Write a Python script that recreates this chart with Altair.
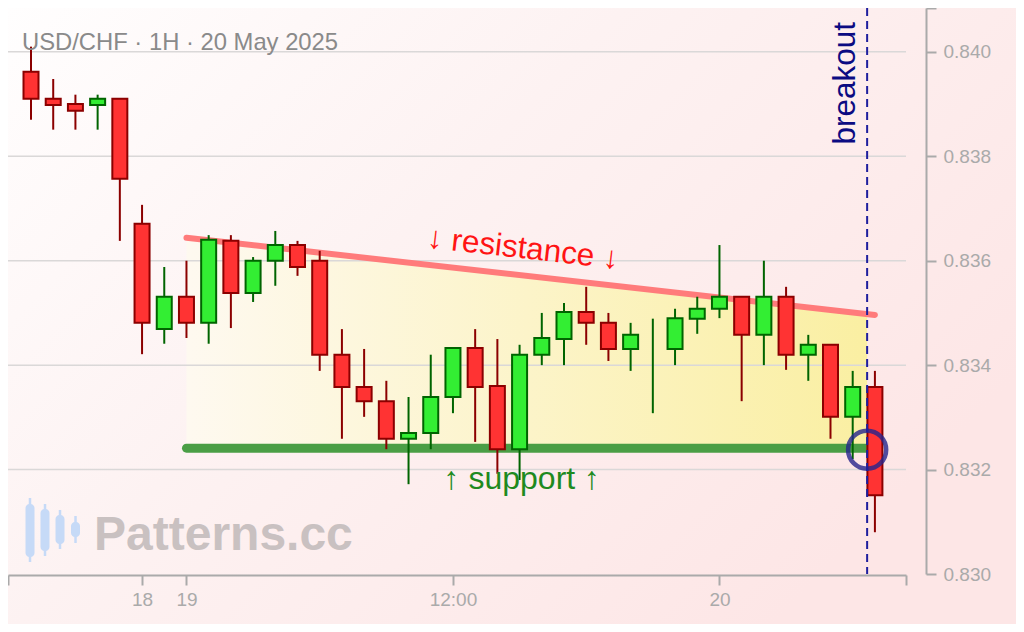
import altair as alt
import pandas as pd

# ---------------- data ----------------
idx = list(range(39))
opens = [0.83962, 0.83910, 0.83900, 0.83898, 0.83910, 0.83671, 0.83469, 0.83531, 0.83481, 0.83638,
         0.83538, 0.83600, 0.83630, 0.83600, 0.83420, 0.83358, 0.83331, 0.83259, 0.83270, 0.83339,
         0.83433, 0.83360, 0.83239, 0.83420, 0.83450, 0.83502, 0.83481, 0.83431, 0.83489, 0.83431,
         0.83489, 0.83508, 0.83531, 0.83458, 0.83531, 0.83420, 0.83439, 0.83301, 0.83358]
highs = [0.84010, 0.83948, 0.83918, 0.83918, 0.83910, 0.83707, 0.83588, 0.83600, 0.83649, 0.83649,
         0.83607, 0.83657, 0.83638, 0.83619, 0.83469, 0.83431, 0.83370, 0.83339, 0.83420, 0.83433,
         0.83469, 0.83450, 0.83439, 0.83500, 0.83519, 0.83550, 0.83500, 0.83481, 0.83489, 0.83508,
         0.83531, 0.83630, 0.83531, 0.83600, 0.83550, 0.83458, 0.83439, 0.83389, 0.83389]
lows = [0.83870, 0.83851, 0.83851, 0.83851, 0.83638, 0.83421, 0.83441, 0.83452, 0.83441, 0.83471,
        0.83521, 0.83552, 0.83571, 0.83389, 0.83259, 0.83301, 0.83239, 0.83172, 0.83239, 0.83308,
        0.83253, 0.83192, 0.83180, 0.83400, 0.83400, 0.83439, 0.83408, 0.83389, 0.83308, 0.83400,
        0.83460, 0.83490, 0.83331, 0.83400, 0.83391, 0.83370, 0.83259, 0.83220, 0.83080]
closes = [0.83910, 0.83898, 0.83887, 0.83910, 0.83757, 0.83481, 0.83531, 0.83481, 0.83640, 0.83538,
          0.83600, 0.83630, 0.83588, 0.83420, 0.83358, 0.83331, 0.83259, 0.83270, 0.83339, 0.83433,
          0.83358, 0.83239, 0.83420, 0.83452, 0.83502, 0.83481, 0.83431, 0.83458, 0.83489, 0.83490,
          0.83508, 0.83531, 0.83458, 0.83531, 0.83420, 0.83439, 0.83301, 0.83358, 0.83151]

# x-axis ticks (candle index) and labels
xtick_vals = [-1.036, 5, 7, 19, 31, 39.4]
xtick_labels = ["", "18", "19", "12:00", "20", ""]
# y-axis ticks
ytick_vals = [0.830, 0.832, 0.834, 0.836, 0.838, 0.840, 0.84084]
ytick_labels = ["0.830", "0.832", "0.834", "0.836", "0.838", "0.840", ""]
grid_vals = [0.832, 0.834, 0.836, 0.838, 0.840]

# pattern lines
res_x = [7, 38]
res_vals = [0.83644, 0.83496]
sup_x = [7, 37.65]
sup_vals = [0.83241, 0.83241]
area_x = [7, 37.65]
area_top = [0.83644, 0.83498]
area_bot = [0.83241, 0.83241]
breakout_x = [37.65]
circle_x = [37.65]
circle_y = [0.83238]

# annotation positions
res_label = {"x": 22.15, "y": 0.83622, "text": "↓ resistance ↓"}
sup_label = {"x": 22.1, "y": 0.83182, "text": "↑ support ↑"}
brk_label = {"x": 36.7, "y": 0.83940, "text": "breakout"}
title_text = "USD/CHF · 1H · 20 May 2025"
watermark_text = "Patterns.cc"

# watermark icon candles
icon_x = [-0.045, 0.630, 1.306, 2.004]
icon_hi = [0.831456, 0.831341, 0.831226, 0.831111]
icon_lo = [0.830230, 0.830345, 0.830479, 0.830594]
icon_top = [0.831341, 0.831245, 0.831130, 0.830996]
icon_bot = [0.830326, 0.830441, 0.830575, 0.830709]

# ---------------- frames ----------------
df = pd.DataFrame({"i": idx, "open": opens, "high": highs, "low": lows, "close": closes})
df["dir"] = ["up" if c >= o else "down" for o, c in zip(opens, closes)]
df["btop"] = df[["open", "close"]].max(axis=1)
df["bbot"] = df[["open", "close"]].min(axis=1)
body_df = df[df["open"] != df["close"]]

W, H = 898, 566
PAD_R, PAD_B = 110, 50
FONT = "Liberation Sans"
AX = "#aaaaaa"

xexpr = " : ".join(f"datum.value == {v} ? '{l}'" for v, l in zip(xtick_vals, xtick_labels)) + " : ''"
yexpr = " : ".join(f"datum.value == {v} ? '{l}'" for v, l in zip(ytick_vals, ytick_labels)) + " : ''"

xscale = alt.Scale(domain=[xtick_vals[0], xtick_vals[-1]], nice=False, zero=False, padding=0)
yscale = alt.Scale(domain=[ytick_vals[0], ytick_vals[-1]], nice=False, zero=False, padding=0)
xaxis = alt.Axis(values=xtick_vals, labelExpr=xexpr, title=None, grid=False, orient="bottom",
                 domainColor=AX, domainWidth=2, tickColor=AX, tickWidth=2, tickSize=10,
                 labelColor=AX, labelFontSize=19, labelFont=FONT, labelPadding=5, offset=1,
                 zindex=1, labelFlush=False, labelOverlap=False)
yaxis = alt.Axis(values=ytick_vals, labelExpr=yexpr, title=None, grid=False, orient="right",
                 domainColor=AX, domainWidth=2, tickColor=AX, tickWidth=2, tickSize=10,
                 labelColor=AX, labelFontSize=19, labelFont=FONT, labelPadding=7, offset=20,
                 zindex=1, labelFlush=False, labelOverlap=False)


def X(f):
    return alt.X(f"{f}:Q", scale=xscale, axis=xaxis)


def Y(f):
    return alt.Y(f"{f}:Q", scale=yscale, axis=yaxis)


one = pd.DataFrame({"a": [0]})

bg = alt.Chart(one).mark_rect(
    fill=alt.Gradient(gradient="linear", x1=0, y1=0, x2=1, y2=0.6,
                      stops=[alt.GradientStop(color="#fffefe", offset=0),
                             alt.GradientStop(color="#fdf2f2", offset=0.45),
                             alt.GradientStop(color="#fde6e6", offset=1)])
).encode(x=alt.value(0), x2=alt.value(W + PAD_R), y=alt.value(0), y2=alt.value(H + PAD_B))

area_df = pd.DataFrame({"x": area_x, "top": area_top, "bot": area_bot})
area = alt.Chart(area_df).mark_area(
    fill=alt.Gradient(gradient="linear", x1=0, y1=0, x2=1, y2=0,
                      stops=[alt.GradientStop(color="#fef9f0", offset=0),
                             alt.GradientStop(color="#faefa2", offset=1)])
).encode(x=X("x"), y=Y("top"), y2=alt.Y2("bot"))

grid = alt.Chart(pd.DataFrame({"g": grid_vals})).mark_rule(
    color="#dad8d8", strokeWidth=1.5).encode(y=Y("g"))

res = alt.Chart(pd.DataFrame({"x": res_x, "v": res_vals})).mark_line(
    color="#ff7b7b", strokeWidth=6, strokeCap="round").encode(x=X("x"), y=Y("v"))
sup = alt.Chart(pd.DataFrame({"x": sup_x, "v": sup_vals})).mark_line(
    color="#4a9e45", strokeWidth=9, strokeCap="round").encode(x=X("x"), y=Y("v"))

dir_dom = ["up", "down"]
stroke_enc = alt.Stroke("dir:N", scale=alt.Scale(domain=dir_dom, range=["#006400", "#8b0000"]), legend=None)
fill_enc = alt.Fill("dir:N", scale=alt.Scale(domain=dir_dom, range=["#33ee33", "#ff3333"]), legend=None)

wicks = alt.Chart(df).mark_rule(strokeWidth=2).encode(
    x=X("i"), y=Y("low"), y2=alt.Y2("high"), stroke=stroke_enc)
bodies = alt.Chart(body_df).mark_bar(size=15, strokeWidth=2).encode(
    x=X("i"), y=Y("bbot"), y2=alt.Y2("btop"), fill=fill_enc, stroke=stroke_enc)

circ = alt.Chart(pd.DataFrame({"x": circle_x, "y": circle_y})).mark_point(
    shape="circle", filled=False, size=1450, strokeWidth=4.5, color="#25258c", opacity=0.8
).encode(x=X("x"), y=Y("y"))

brk = alt.Chart(pd.DataFrame({"x": breakout_x})).mark_rule(
    color="#1e1e9e", strokeWidth=2, strokeDash=[8, 5]).encode(x=X("x"))


def label(d, color, size, angle=0):
    return alt.Chart(pd.DataFrame([d])).mark_text(
        font=FONT, fontSize=size, color=color, angle=angle, align="center", baseline="middle"
    ).encode(x=X("x"), y=Y("y"), text="text:N")


res_t = label(res_label, "#ff1414", 31.5, 6.4)
sup_t = label(sup_label, "#1f8a1f", 32)
brk_t = label(brk_label, "#0b0b82", 31.5, 270)

title = alt.Chart(one).mark_text(
    text=title_text, font=FONT, fontSize=23.8, color="#8a8a8a", align="left", baseline="alphabetic"
).encode(x=alt.value(14), y=alt.value(41.5))

wm = alt.Chart(one).mark_text(
    text=watermark_text, font=FONT, fontSize=48, fontWeight="bold", color="#c9c1c1",
    align="left", baseline="alphabetic"
).encode(x=alt.value(86), y=alt.value(542))

icon_df = pd.DataFrame({"x": icon_x, "hi": icon_hi, "lo": icon_lo, "top": icon_top, "bot": icon_bot})
icon_w = alt.Chart(icon_df).mark_rule(color="#c6daf7", strokeWidth=2.5).encode(
    x=X("x"), y=Y("lo"), y2=alt.Y2("hi"))
icon_b = alt.Chart(icon_df).mark_bar(color="#c6daf7", size=9, cornerRadius=4).encode(
    x=X("x"), y=Y("bot"), y2=alt.Y2("top"))

chart = alt.layer(
    bg, area, grid, res, sup, wicks, bodies, circ, brk, res_t, sup_t, brk_t, title, icon_w, icon_b, wm
).properties(
    width=W, height=H,
    autosize=alt.AutoSizeParams(type="none"),
    padding={"left": 0, "top": 0, "right": PAD_R, "bottom": PAD_B},
    background="#fdecec",
).configure_view(stroke=None)

chart.save("out.html", embed_options={"renderer": "svg", "actions": False})
